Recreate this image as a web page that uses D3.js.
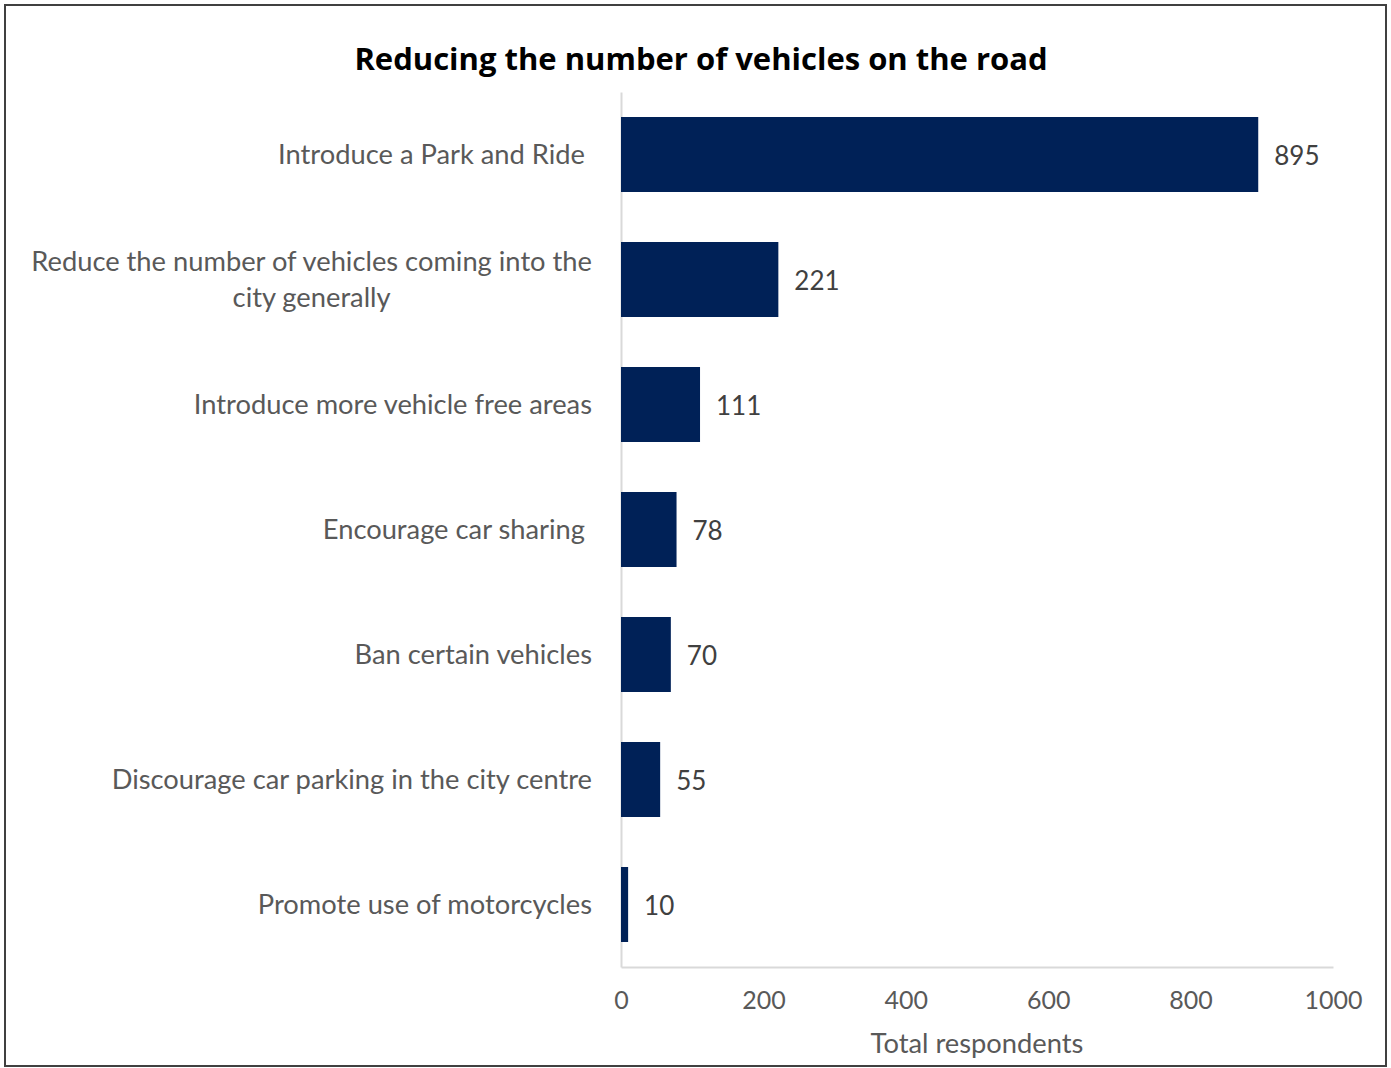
<!DOCTYPE html>
<html>
<head>
<meta charset="utf-8">
<script src="https://cdn.jsdelivr.net/npm/d3@7"></script>
<style>
  html, body { margin: 0; padding: 0; background: #fff; }
  svg { display: block; font-family: Lato, "Open Sans", sans-serif; }
  .cat { white-space: pre; }
</style>
</head>
<body>
<svg id="chart" width="1391" height="1068"></svg>
<script>
// Survey responses: ideas for reducing the number of vehicles on the road
const categories = [
  "Introduce a Park and Ride ",
  "Reduce the number of vehicles coming into the city generally",
  "Introduce more vehicle free areas",
  "Encourage car sharing ",
  "Ban certain vehicles",
  "Discourage car parking in the city centre",
  "Promote use of motorcycles"
];
// Line breaks for long category labels
const categoryLines = [
  ["Introduce a Park and Ride "],
  ["Reduce the number of vehicles coming into the", "city generally"],
  ["Introduce more vehicle free areas"],
  ["Encourage car sharing "],
  ["Ban certain vehicles"],
  ["Discourage car parking in the city centre"],
  ["Promote use of motorcycles"]
];
const respondents = [895, 221, 111, 78, 70, 55, 10];
const xTicks = [0, 200, 400, 600, 800, 1000];
const chartTitle = "Reducing the number of vehicles on the road";
const xAxisTitle = "Total respondents";

const svg = d3.select("#chart");
const plot = { left: 621, right: 1333, top: 92, bottom: 967 };

const barColor = "#002157";
const textColor = "#595959";
const gridColor = "#d9d9d9";
const labelSize = 27.3;

// Outer frame
svg.append("rect")
  .attr("x", 5).attr("y", 5)
  .attr("width", 1381).attr("height", 1061)
  .attr("fill", "#fff")
  .attr("stroke", "#404040")
  .attr("stroke-width", 2);

// Title
svg.append("text")
  .attr("x", 701).attr("y", 70)
  .attr("text-anchor", "middle")
  .attr("font-family", "'Open Sans', sans-serif")
  .attr("font-weight", "bold")
  .attr("font-size", 31)
  .attr("fill", "#000")
  .text(chartTitle);

const x = d3.scaleLinear().domain([0, 1000]).range([plot.left, plot.right]);
const y = d3.scaleBand().domain(categories).range([plot.top, plot.bottom])
  .paddingInner(0.4).paddingOuter(0.2);

// Bottom axis
const xAxis = svg.append("g")
  .attr("transform", `translate(0,${plot.bottom})`)
  .call(d3.axisBottom(x).tickValues(xTicks).tickFormat(d3.format("d"))
    .tickSize(0).tickPadding(24).tickSizeOuter(0));
xAxis.select(".domain").attr("stroke", gridColor).attr("stroke-width", 2);
xAxis.selectAll(".tick text")
  .attr("font-family", "Lato, 'Open Sans', sans-serif")
  .attr("font-size", 25)
  .attr("fill", textColor);

// Left axis line (category labels drawn separately to allow wrapping)
const yAxis = svg.append("g")
  .attr("transform", `translate(${plot.left},0)`)
  .call(d3.axisLeft(y).tickSize(0).tickFormat("").tickSizeOuter(0));
yAxis.select(".domain").attr("stroke", gridColor).attr("stroke-width", 2);

// Bars
svg.append("g").selectAll("rect")
  .data(categories)
  .join("rect")
  .attr("x", x(0))
  .attr("y", d => y(d))
  .attr("width", (d, i) => x(respondents[i]) - x(0))
  .attr("height", y.bandwidth())
  .attr("fill", barColor);

// Value labels
svg.append("g").selectAll("text")
  .data(categories)
  .join("text")
  .attr("x", (d, i) => x(respondents[i]) + 16)
  .attr("y", d => y(d) + y.bandwidth() / 2 + 1)
  .attr("dy", "0.35em")
  .attr("font-size", 26)
  .attr("fill", "#404040")
  .text((d, i) => respondents[i]);

// Category labels
const lineH = 36;
const labelRight = 592;
const catG = svg.append("g");
categories.forEach((c, i) => {
  const lines = categoryLines[i];
  const cy = y(c) + y.bandwidth() / 2;
  const t = catG.append("text")
    .attr("class", "cat")
    .attr("font-size", labelSize)
    .attr("fill", textColor)
    .attr("y", cy - (lines.length - 1) * lineH / 2)
    .attr("dy", "0.35em");
  if (lines.length === 1) {
    t.attr("x", labelRight).attr("text-anchor", "end").text(lines[0]);
  } else {
    // Multi-line labels are centred within a right-aligned block
    const tmp = catG.append("text").attr("font-size", labelSize).text(lines[0]);
    const w = tmp.node().getComputedTextLength();
    tmp.remove();
    const cx = labelRight - w / 2;
    t.attr("text-anchor", "middle").attr("dy", null);
    lines.forEach((ln, j) => {
      t.append("tspan")
        .attr("x", cx)
        .attr("dy", j === 0 ? "0.35em" : lineH)
        .text(ln);
    });
  }
});

// X axis title
svg.append("text")
  .attr("x", (plot.left + plot.right) / 2)
  .attr("y", 1043)
  .attr("dy", "0.35em")
  .attr("text-anchor", "middle")
  .attr("font-size", labelSize)
  .attr("fill", textColor)
  .text(xAxisTitle);
</script>
</body>
</html>
